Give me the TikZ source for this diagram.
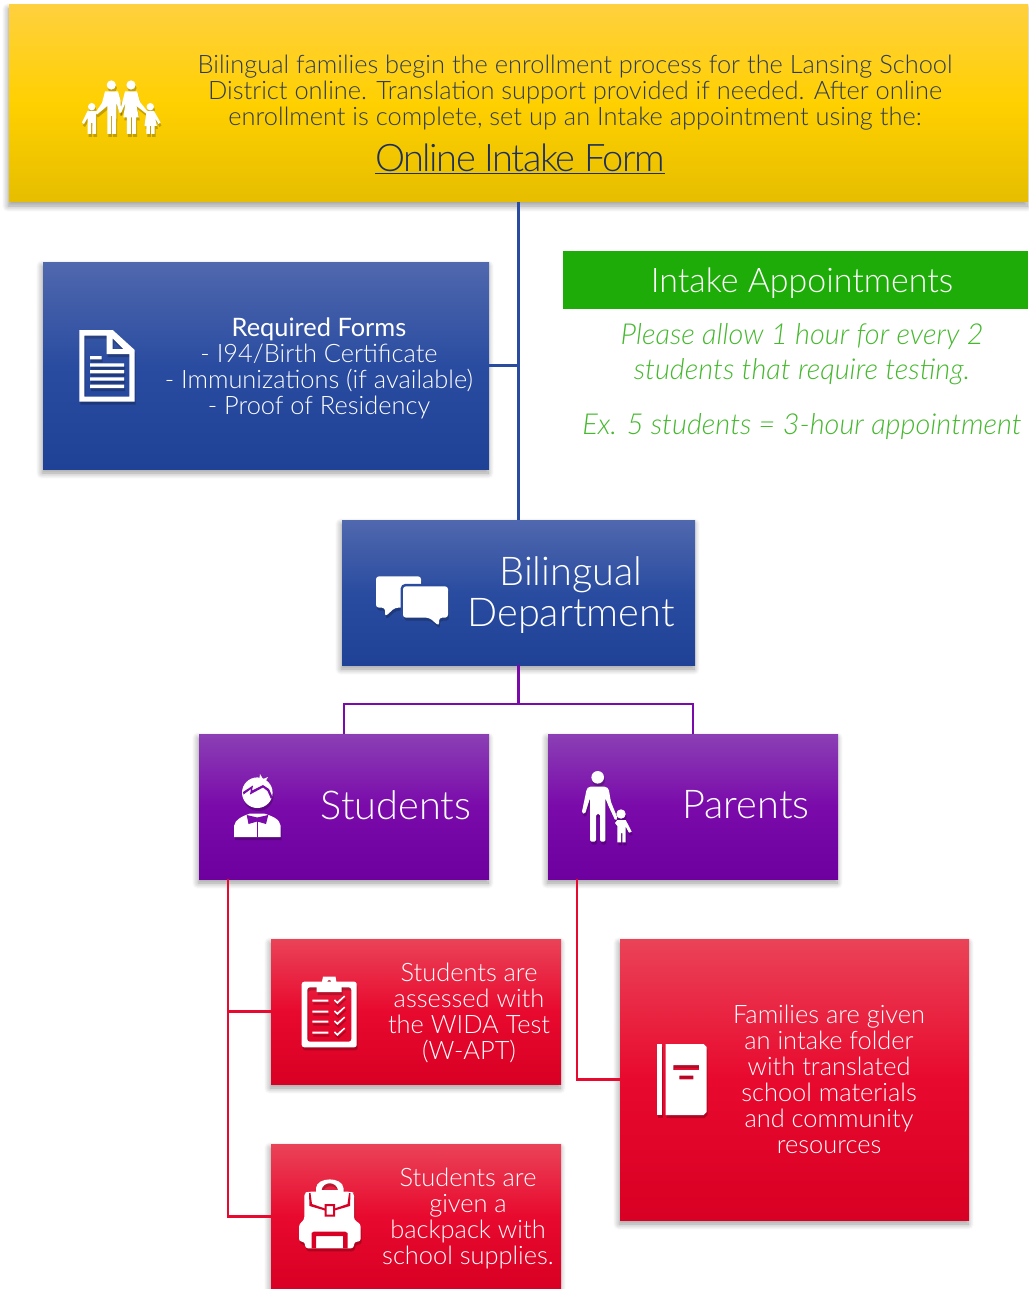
\documentclass[tikz,border=0pt]{standalone}
\usepackage{fontspec}
\setmainfont{Lato}[UprightFont=* Light,ItalicFont=* Light Italic]
\newfontfamily\linkfont{Lato}[UprightFont=* Light,LetterSpace=-4]
\newfontfamily\formshead{Lato}
\usetikzlibrary{shadows.blur}

\definecolor{goldtop}{HTML}{FFD03E}
\definecolor{goldmid}{HTML}{FFD000}
\definecolor{goldlow}{HTML}{E6BE00}
\definecolor{bluetop}{HTML}{5068AE}
\definecolor{bluemid}{HTML}{2A4CA0}
\definecolor{bluelow}{HTML}{1F4296}
\definecolor{plumtop}{HTML}{8B3FB5}
\definecolor{plummid}{HTML}{7A0AAA}
\definecolor{plumlow}{HTML}{6E00A0}
\definecolor{redtop}{HTML}{EA4358}
\definecolor{redmid}{HTML}{E8092E}
\definecolor{redlow}{HTML}{D80024}
\definecolor{inkdark}{HTML}{2C3B50}
\definecolor{linknavy}{HTML}{1D2F5E}
\definecolor{leafgreen}{HTML}{1EAD08}
\definecolor{notegreen}{HTML}{45B82E}

\tikzset{
  card/.style={rectangle,inner sep=0pt,outer sep=0pt,
    blur shadow={shadow xshift=-1pt,shadow yshift=-4pt,shadow blur radius=6pt,
      shadow blur steps=8,shadow opacity=40}},
  goldcard/.style={card,top color=goldtop,bottom color=goldlow,middle color=goldmid},
  bluecard/.style={card,top color=bluetop,bottom color=bluelow,middle color=bluemid},
  plumcard/.style={card,top color=plumtop,bottom color=plumlow,middle color=plummid},
  redcard/.style={card,top color=redtop,bottom color=redlow,middle color=redmid},
  bodytext/.style={align=center,inner sep=0pt,font=\fontsize{25.4}{26}\selectfont},
  whitetext/.style={bodytext,text=white},
  headtext/.style={align=center,inner sep=0pt,text=white,font=\fontsize{39.7}{41}\selectfont},
  notetext/.style={align=center,inner sep=0pt,text=notegreen,font=\fontsize{28.9}{35}\selectfont\itshape},
  iconwhite/.style={fill=white},
  iconshade/.style={fill=black,opacity=.22,shift={(1,3)}},
  bluewire/.style={draw=bluemid,line width=2.3pt},
  plumwire/.style={draw=plummid,line width=2.3pt},
  redwire/.style={draw=redmid,line width=2.3pt},
  family/.pic={
    \path[pic actions] (111.3,85) circle (4.6) (131,85) circle (4.6)
      (91.7,106.7) circle (3.7) (150.3,106.7) circle (3.7);
    \path[pic actions] (105,91.5) -- (118,91.5) -- (120.5,100) -- (121,112) -- (119.5,113)
      -- (116.5,103) -- (116,134) -- (112.2,134) -- (112.2,116) -- (111,116) -- (111,134)
      -- (107.3,134) -- (107.3,106) -- (97,114.5) -- (95.5,112.5) -- (102,103) -- cycle;
    \path[pic actions] (125,91.5) -- (137,91.5) -- (140,102) -- (147.5,111.5) -- (146,113.5)
      -- (136.5,106) -- (138.8,117.5) -- (136,117.5) -- (136,134) -- (132,134) -- (132,117.5)
      -- (130.8,117.5) -- (130.8,134) -- (126.8,134) -- (126.8,117.5) -- (123.3,117.5)
      -- (125.5,103) -- (121,113) -- (119.8,112) -- cycle;
    \path[pic actions] (87.5,111) -- (96,111) -- (96,134) -- (92.4,134) -- (92.4,123)
      -- (91,123) -- (91,134) -- (87.5,134) -- (87.5,118) -- (84,124) -- (82,122.5) -- cycle;
    \path[pic actions] (146.5,111) -- (154,111) -- (160.5,122.5) -- (158.5,124) -- (155,118)
      -- (157,126) -- (154.5,126) -- (154.5,134) -- (151,134) -- (151,126) -- (149.8,126)
      -- (149.8,134) -- (146.3,134) -- (146.3,126) -- (144.5,126) -- cycle;
  },
  paperform/.pic={
    \path[pic actions,even odd rule] (79.3,330) -- (112.7,330) -- (134.7,350) -- (134.7,401.7)
      -- (79.3,401.7) -- cycle
      (84.3,335.7) -- (106.7,335.7) -- (106.7,354) -- (129.3,354) -- (129.3,396.7)
      -- (84.3,396.7) -- cycle
      (112.7,338.3) -- (123.3,349) -- (112.7,349) -- cycle;
    \path[pic actions] (90,356) rectangle (101.7,359.3) (90,363.3) rectangle (124,366.7)
      (90,370) rectangle (124,373.3) (90,377.3) rectangle (124,380.7)
      (90,384.7) rectangle (124,388);
  },
  chatback/.pic={
    \path[pic actions,rounded corners=3pt] (376,576.3) -- (421,576.3) -- (421,607.7)
      -- (395,607.7) -- (385,616.7) -- (385,607.7) -- (376,607.7) -- cycle;
  },
  chatfront/.pic={
    \path[pic actions,rounded corners=3pt] (403,586.3) -- (448,586.3) -- (448,617.7)
      -- (439,617.7) -- (439,626) -- (429.3,617.7) -- (403,617.7) -- cycle;
  },
  pupil/.pic={
    \path[pic actions] (257.3,792.7) circle (15.3);
    \path[pic actions] (259,782) -- (260,774) -- (263,779) -- (268,777) -- (265,782) -- (270,785) -- (263,786) -- cycle;
    \path[pic actions] (234,837) -- (234,826) .. controls (235,819) and (243,816) .. (250,813.5)
      -- (264,813.5) .. controls (272,816) and (280,819) .. (280.7,826) -- (280.7,837) -- cycle;
  },
  pupilmarks/.pic={
    \path[pic actions] (243,792) -- (253,785.5) -- (252,790.5) -- (263,785) -- (269,789) -- (272.5,797)
      -- (271,799) -- (267.5,791) -- (263,787.5) -- (250,794.5) -- (251,789) -- (243.5,794.5) -- cycle;
    \path[pic actions] (246.7,815) -- (257.3,817.5) -- (268.3,815) -- (266,824) -- (257.3,821.5)
      -- (248.5,824) -- cycle;
    \path[pic actions] (256.9,821) rectangle (257.7,837);
  },
  guardian/.pic={
    \path[pic actions] (597.7,777.3) circle (6.3) (621,814) circle (4.7);
    \path[pic actions,rounded corners=1.5pt] (589,786.7) -- (606,786.7) -- (608.7,789) -- (611,802)
      -- (617.5,818) -- (615.5,821) -- (608.5,806) -- (605.3,798) -- (605.3,841.7) -- (600,841.7)
      -- (600,814) -- (596,814) -- (596,841.7) -- (590,841.7) -- (590,798) -- (585,814)
      -- (581.7,813) -- (586.7,789) -- cycle;
    \path[pic actions] (617.3,820) -- (625.7,820) -- (631.7,831.7) -- (629,832.7) -- (625.7,826.7)
      -- (625.7,842.3) -- (622.3,842.3) -- (622.3,833) -- (621,833) -- (621,842.3) -- (617.3,842.3)
      -- (617.3,826) -- (615,823) -- cycle;
  },
  clipboard/.pic={
    \path[pic actions,even odd rule,rounded corners=2.5pt] (301.7,981.7) rectangle (356.7,1047.3)
      (307.3,987.3) rectangle (351.3,1041.7);
    \path[pic actions,even odd rule] (316.7,983) -- (321.7,983) -- (323,976.7) -- (335.5,976.7)
      -- (336.7,983) -- (341.7,983) -- (341.7,992) -- (316.7,992) -- cycle
      (329.3,982) circle (2);
    \path[pic actions] (312.3,999.7) rectangle (328.3,1001.7) (312.3,1010.7) rectangle (328.3,1012.7)
      (312.3,1020.7) rectangle (328.3,1022.7) (312.3,1031.7) rectangle (328.3,1033.7);
    \foreach \y in {0,11,21,32} {
      \path[pic actions,shift={(0,\y)}] (334,1000.5) -- (335,999.4) -- (337.3,1001.6) -- (344.2,995.5)
        -- (345.2,996.6) -- (337.3,1004) -- cycle;
    }
  },
  backpack/.pic={
    \path[pic actions,even odd rule] (316,1192) -- (316,1188) .. controls (317,1176.5) and (342.5,1176.5) .. (343.5,1188)
      -- (343.5,1192) -- cycle
      (321.5,1190) .. controls (323,1181) and (336.5,1181) .. (338,1190) -- cycle;
    \path[pic actions,rounded corners=3pt] (304.3,1193) -- (308,1191.7) -- (351,1191.7) -- (354,1193)
      -- (354,1220) -- (360.7,1224) -- (360.7,1241.7) -- (354,1241.7) -- (354,1248.3)
      -- (305,1248.3) -- (305,1241.7) -- (299,1241.7) -- (299,1224) -- (304.3,1220) -- cycle;
  },
  backpackmarks/.pic={
    \path[pic actions] (309,1193) -- (310.5,1193) -- (312,1204) -- (325,1208.5) -- (325,1210.5)
      -- (309.5,1206) -- cycle;
    \path[pic actions] (350.5,1193) -- (349,1193) -- (347.5,1204) -- (334.5,1208.5) -- (334.5,1210.5)
      -- (350,1206) -- cycle;
    \path[pic actions,even odd rule] (324.5,1204) rectangle (335,1216.5)
      (326.5,1206) rectangle (333,1214.5);
    \path[pic actions,even odd rule] (311.5,1248.3) -- (311.5,1233) -- (314,1231.5) -- (345,1231.5)
      -- (347.5,1233) -- (347.5,1248.3) -- cycle
      (316,1248.3) rectangle (343,1236);
  },
  folderbook/.pic={
    \path[pic actions] (656.7,1044) rectangle (662.3,1115);
    \path[pic actions,even odd rule] (665.7,1044) -- (703.7,1044) -- (706.7,1047) -- (706.7,1112)
      -- (703.7,1115) -- (665.7,1115) -- cycle
      (673.3,1065) rectangle (699,1070) (679.3,1075.7) rectangle (693.3,1079.3);
  }
}

\begin{document}
\begin{tikzpicture}[x=1pt,y=-1pt,line cap=butt]
          \useasboundingbox (0,0) rectangle (1028,1289);

          \node [goldcard,minimum width=1019pt,minimum height=197pt] (enroll) at (518.5,103.5) {};
          \node [bluecard,minimum width=446pt,minimum height=207pt] (forms) at (266,365.5) {};
          \node [bluecard,minimum width=353pt,minimum height=145pt] (dept) at (518.5,592.5) {};
          \node [plumcard,minimum width=290pt,minimum height=145pt] (students) at (344,806.5) {};
          \node [plumcard,minimum width=290pt,minimum height=145pt] (parents) at (693,806.5) {};
          \node [redcard,minimum width=290pt,minimum height=145pt] (wida) at (416,1011.5) {};
          \node [redcard,minimum width=290pt,minimum height=145pt] (bag) at (416,1216.5) {};
          \node [redcard,minimum width=349pt,minimum height=281pt] (folder) at (794.5,1079.5) {};
          \node [fill=leafgreen,inner sep=0pt,minimum width=465pt,minimum height=58pt] (banner) at (795.5,280) {};

          \coordinate (stutrunk) at (228,879);
          \coordinate (partrunk) at (577,879);

          \draw [bluewire] (enroll.south) -- (dept.north);
          \draw [bluewire] (forms.east) -- (forms.east -| dept.north);
          \draw [plumwire] (dept.south) -- ++(0,39) -| (students.north);
          \draw [plumwire] (dept.south) -- ++(0,39) -| (parents.north);
          \draw [redwire] (stutrunk) |- (bag.west);
          \draw [redwire] (stutrunk |- wida.west) -- (wida.west);
          \draw [redwire] (partrunk) |- (folder.west);

          \node [bodytext,text=inkdark] (enrolltext) at (575,93) {Bilingual families begin the enrollment process for the Lansing School\\District online. Translation support provided if needed. After online\\enrollment is complete, set up an Intake appointment using the:};
          \node [inner sep=0pt,text=linknavy,font=\fontsize{38}{40}\selectfont\linkfont] (intakelink) at (520,159) {\underline{Online Intake Form}};
          \node [whitetext] (formstext) at (319,368) {{\formshead Required Forms}\\- I94/Birth Certificate\\- Immunizations (if available)\\- Proof of Residency};
          \node [headtext] (depttext) at (571,595) {Bilingual\\Department};
          \node [headtext] (studentstext) at (396,805) {Students};
          \node [headtext] (parentstext) at (746,805) {Parents};
          \node [whitetext] (widatext) at (469,1012.5) {Students are\\assessed with\\the WIDA Test\\(W-APT)};
          \node [whitetext] (bagtext) at (468,1218.5) {Students are\\given a\\backpack with\\school supplies.};
          \node [whitetext] (foldertext) at (829,1079) {Families are given\\an intake folder\\with translated\\school materials\\and community\\resources};
          \node [inner sep=0pt,text=white,font=\fontsize{33.9}{36}\selectfont] (bannertext) at (802,283) {Intake Appointments};
          \node [notetext] (allowtext) at (802,354) {Please allow 1 hour for every 2\\students that require testing.};
          \node [notetext] (extext) at (802,427) {Ex. 5 students = 3-hour appointment};

          \pic [iconshade] at (0,0) {family};
          \pic [iconwhite] at (0,0) {family};
          \pic [iconshade] at (0,0) {paperform};
          \pic [iconwhite] at (0,0) {paperform};
          \pic [iconshade] at (0,0) {chatback};
          \pic [iconwhite] at (0,0) {chatback};
          \pic [fill=bluemid,draw=bluemid,line width=5pt] at (0,0) {chatfront};
          \pic [iconshade] at (0,0) {chatfront};
          \pic [iconwhite] at (0,0) {chatfront};
          \pic [iconshade] at (0,0) {pupil};
          \pic [iconwhite] at (0,0) {pupil};
          \pic [fill=plummid] at (0,0) {pupilmarks};
          \pic [iconshade] at (0,0) {guardian};
          \pic [iconwhite] at (0,0) {guardian};
          \pic [iconshade] at (0,0) {clipboard};
          \pic [iconwhite] at (0,0) {clipboard};
          \pic [iconshade] at (0,0) {backpack};
          \pic [iconwhite] at (0,0) {backpack};
          \pic [fill=redlow] at (0,0) {backpackmarks};
          \pic [iconshade] at (0,0) {folderbook};
          \pic [iconwhite] at (0,0) {folderbook};

      \end{tikzpicture}
\end{document}
